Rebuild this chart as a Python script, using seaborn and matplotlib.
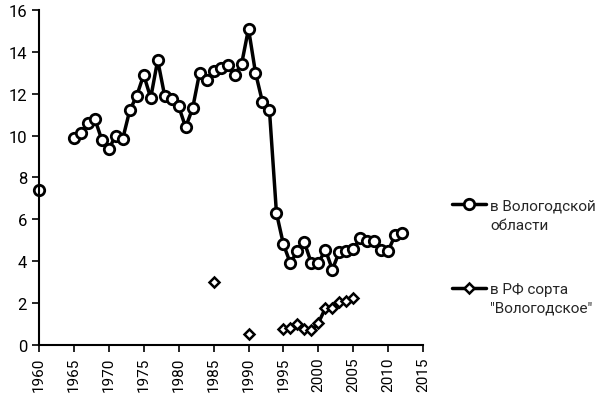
import numpy as np
import pandas as pd
import matplotlib
matplotlib.use("Agg")
import matplotlib.pyplot as plt
from matplotlib.legend_handler import HandlerLine2D
import seaborn as sns

sns.set_theme(style="white")
plt.rcParams["font.family"] = ["Roboto", "DejaVu Sans"]

# в Вологодской области
vol_years = [1960] + list(range(1965, 2013))
vol_values = [7.4,
              9.9, 10.1, 10.6, 10.8, 9.8, 9.35, 10.0, 9.85, 11.2, 11.9,
              12.9, 11.8, 13.6, 11.9, 11.75, 11.4, 10.4, 11.3, 13.0, 12.65,
              13.1, 13.25, 13.35, 12.9, 13.4, 15.1, 13.0, 11.6, 11.2, 6.3,
              4.8, 3.9, 4.5, 4.9, 3.9, 3.9, 4.55, 3.6, 4.45, 4.5,
              4.6, 5.1, 4.95, 4.95, 4.55, 4.5, 5.25, 5.35]
vol_segment = [0] + [1] * 48

# в РФ сорта "Вологодское"
rf_years = [1985, 1990] + list(range(1995, 2006))
rf_values = [3.0, 0.5, 0.75, 0.8, 1.0, 0.75, 0.7, 1.05, 1.75, 1.75, 2.05, 2.1, 2.25]
rf_segment = [0, 1] + [2] * 11

labels = ["в Вологодской\nобласти", "в РФ сорта\n\"Вологодское\""]

vol = pd.DataFrame({"year": vol_years, "value": vol_values, "seg": vol_segment})
rf = pd.DataFrame({"year": rf_years, "value": rf_values, "seg": rf_segment})


class FirstLineHandler(HandlerLine2D):
    # put the legend marker next to the first line of a two-line label
    def create_artists(self, legend, orig_handle, xdescent, ydescent,
                       width, height, fontsize, trans):
        arts = super().create_artists(legend, orig_handle, xdescent, ydescent,
                                      width, height, fontsize, trans)
        for a in arts:
            a.set_ydata(np.asarray(a.get_ydata(), dtype=float) + 0.7 * fontsize)
        return arts


fig = plt.figure(figsize=(6.08, 4.06), dpi=100)
ax = fig.add_axes([0.064, 0.148, 0.632, 0.825])

sns.lineplot(data=vol, x="year", y="value", units="seg", estimator=None,
             color="black", lw=2.5, marker="o", ms=7.5, mfc="white",
             mec="black", mew=2, ax=ax, clip_on=False, label=labels[0])
sns.lineplot(data=rf, x="year", y="value", units="seg", estimator=None,
             color="black", lw=2.5, marker="D", ms=5, mfc="white",
             mec="black", mew=1.8, ax=ax, clip_on=False, label=labels[1])

ax.set_xlim(1960, 2015)
ax.set_ylim(0, 16)
ax.set_xticks(range(1960, 2016, 5))
ax.set_yticks(range(0, 17, 2))
ax.set_xlabel("")
ax.set_ylabel("")
ax.tick_params(axis="x", labelrotation=90, labelsize=11, length=5,
               width=1.2, direction="out", bottom=True, colors="black")
ax.tick_params(axis="y", labelsize=12, length=5, width=1.2,
               direction="out", left=True, colors="black")
for s in ["top", "right"]:
    ax.spines[s].set_visible(False)
for s in ["left", "bottom"]:
    ax.spines[s].set_color("black")
    ax.spines[s].set_linewidth(1.5)

handles, labs = ax.get_legend_handles_labels()
uniq = {}
for h, l in zip(handles, labs):
    uniq.setdefault(l, h)
leg = ax.legend([uniq[l] for l in labels], labels, loc="upper left",
                bbox_to_anchor=(1.04, 0.478), frameon=False, fontsize=11,
                handlelength=2.2, labelspacing=3.3, handletextpad=0.3,
                handler_map={matplotlib.lines.Line2D: FirstLineHandler()})
for t in leg.get_texts():
    t.set_linespacing(1.45)

fig.savefig("out.png", dpi=100)
